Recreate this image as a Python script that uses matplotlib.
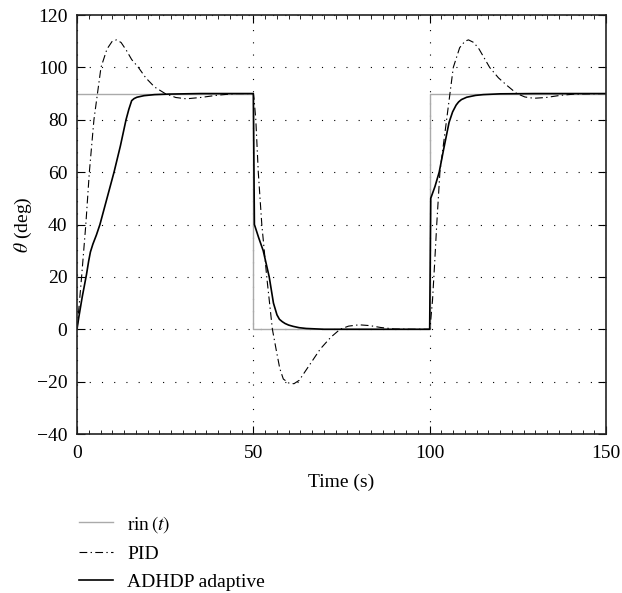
import matplotlib
matplotlib.use("Agg")
import matplotlib.pyplot as plt
from matplotlib.ticker import MultipleLocator, AutoMinorLocator

plt.rcParams["font.family"] = ["Liberation Serif", "DejaVu Serif"]
plt.rcParams["mathtext.fontset"] = "stix"

# reference input
rin_t = [0, 50, 50, 100, 100, 150]
rin_v = [90, 90, 0, 0, 90, 90]

# PID response
pid_t = [0, 0.6, 1.3, 1.9, 2.5, 3.5, 4.8, 6.8, 8.5, 10, 11.2, 12.5, 14, 15.5,
         17.4, 19.5, 22, 25, 28, 31, 35, 40, 45, 50,
         50.2, 50.7, 51.4, 52.4, 53.8, 55.4, 56.5, 57.5, 58.5, 60, 61.5, 63,
         64.5, 66, 69, 72, 74.6, 77, 80, 83, 86, 90, 95, 100,
         100.2, 100.8, 101.4, 102, 102.9, 104.8, 106.7, 108.5, 110, 111, 112.5,
         114, 115.5, 117, 119.5, 122, 124.7, 127, 129.5, 133, 137, 141, 150]
pid_v = [0, 9, 20, 30, 40, 60, 80, 100, 107, 110, 110.5, 109.5, 106.5, 103,
         100, 96, 92.5, 90, 88.5, 88, 88.5, 89.4, 90, 90,
         88, 80, 60, 40, 20, 0, -8, -15, -19, -20.5, -20.8, -19.5,
         -16.5, -13.5, -7.5, -3, 0, 1.2, 1.7, 1.4, 0.7, 0.1, 0, 0,
         2, 11, 25, 40, 60, 80, 100, 107.5, 110, 110.5, 109.5,
         107, 103.5, 100, 96, 93, 90, 88.7, 88.2, 88.5, 89.3, 89.8, 90]

# ADHDP adaptive response
adp_t = [0, 0.5, 1, 1.5, 2, 2.7, 3.3, 3.8, 4.5, 5.5, 6.5, 7.5, 8.5, 9.5, 10.5,
         11.4, 12.3, 13.1, 13.9, 14.7, 15.5, 16.2, 17, 19, 22, 26, 35, 50,
         50.3, 51.5, 52.8, 54.5, 55.7, 56.7, 57.4, 58.2, 59, 60, 61.3, 63, 65,
         70, 100,
         100.3, 101.5, 102.7, 104, 105.5, 106.5, 107.5, 108.2, 109, 110.5, 113,
         115.2, 120, 130, 150]
adp_v = [0, 4.5, 8.5, 12.5, 16, 21, 26, 29.5, 32.5, 36, 40, 45, 50, 55, 60,
         65, 70, 75, 80, 84, 87.3, 88.1, 88.6, 89.2, 89.6, 89.8, 90, 90,
         40, 35, 30, 20, 10, 5.5, 3.8, 2.9, 2.2, 1.6, 1.1, 0.6, 0.3,
         0, 0,
         50, 54.5, 60, 69, 79, 83, 85.6, 86.8, 87.7, 88.6, 89.3,
         89.6, 89.9, 90, 90]

fig = plt.figure(figsize=(6.22, 5.93), dpi=100)
ax = fig.add_axes([0.1238, 0.2681, 0.8505, 0.7066])

ax.plot(rin_t, rin_v, color="#aaaaaa", lw=1.0, label=r"rin$\,(t)$")
ax.plot(pid_t, pid_v, color="black", lw=0.8, linestyle=(0, (7, 3, 1.2, 3)),
        label="PID")
ax.plot(adp_t, adp_v, color="black", lw=1.2, label="ADHDP adaptive")

ax.set_xlim(0, 150)
ax.set_ylim(-40, 120)
ax.xaxis.set_major_locator(MultipleLocator(50))
ax.xaxis.set_minor_locator(AutoMinorLocator(15))
ax.yaxis.set_major_locator(MultipleLocator(20))
ax.tick_params(which="both", direction="in", top=True, right=True,
               labelsize=14, colors="black")
ax.tick_params(which="major", length=6, width=0.8)
ax.tick_params(which="minor", length=3, width=0.6)
ax.tick_params(axis="x", pad=8)
ax.tick_params(axis="y", pad=7)
ax.grid(True, which="major", color="black", lw=0.8, linestyle=(0, (1, 10)))
for s in ax.spines.values():
    s.set_linewidth(1.2)
    s.set_color("#222222")

ax.set_xlabel("Time (s)", fontsize=14, labelpad=8)
ax.set_ylabel(r"$\theta$ (deg)", fontsize=14, labelpad=2)

fig.legend(loc="upper left", bbox_to_anchor=(0.115, 0.147), frameon=False,
           fontsize=14, handlelength=1.75, handletextpad=0.7,
           labelspacing=0.55, borderaxespad=0)

fig.savefig("out.png", dpi=100)
